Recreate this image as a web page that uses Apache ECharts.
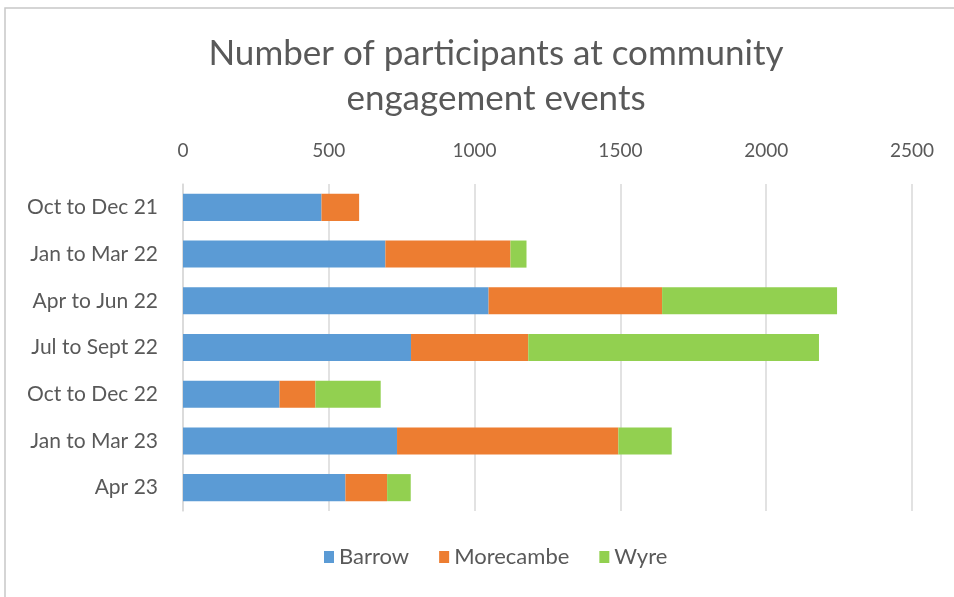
<!DOCTYPE html>
<html>
<head>
<meta charset="utf-8">
<script src="https://cdn.jsdelivr.net/npm/echarts@6/dist/echarts.min.js"></script>
<style>
html,body{margin:0;padding:0;background:#fff;}
#chart{width:954px;height:597px;}
</style>
</head>
<body>
<div id="chart"></div>
<script>
const categories = ["Oct to Dec 21","Jan to Mar 22","Apr to Jun 22","Jul to Sept 22","Oct to Dec 22","Jan to Mar 23","Apr 23"];
const barrow = [475, 694, 1048, 782, 331, 734, 557];
const morecambe = [129, 429, 595, 402, 123, 759, 143];
const wyre = [0, 55, 600, 997, 224, 183, 81];
const seriesNames = ["Barrow","Morecambe","Wyre"];
const colors = ["#5B9BD5","#ED7D31","#92D050"];
const xTicks = {min: 0, max: 2500, interval: 500};

const font = "Lato, 'Open Sans', sans-serif";
const chart = echarts.init(document.getElementById('chart'));
const mk = (name, data, color) => ({
  name, type: 'bar', stack: 'total', data,
  itemStyle: {color},
  barCategoryGap: '42%'
});
chart.setOption({
  animation: false,
  title: {
    text: 'Number of participants at community\nengagement events',
    left: 491, top: 26, textAlign: 'center',
    textStyle: {fontFamily: font, fontSize: 35, fontWeight: 'normal', color: '#595959', lineHeight: 45}
  },
  graphic: [{
    type: 'rect', shape: {x: 5, y: 8, width: 1200, height: 1200},
    style: {fill: 'none', stroke: '#c8c8c8', lineWidth: 1.5}, silent: true, z: -1
  }],
  legend: {
    bottom: 24, left: 319,
    itemWidth: 10, itemHeight: 12, itemGap: 30,
    icon: 'rect',
    textStyle: {fontFamily: font, fontSize: 22, color: '#595959'},
    data: seriesNames
  },
  grid: {left: 183, right: 42, top: 184, bottom: 86},
  xAxis: {
    type: 'value', position: 'top',
    min: xTicks.min, max: xTicks.max, interval: xTicks.interval,
    axisLine: {show: false}, axisTick: {show: false},
    axisLabel: {fontFamily: font, fontSize: 19, color: '#595959', margin: 24, formatter: v => String(v)},
    splitLine: {lineStyle: {color: '#d9d9d9', width: 1.5}}
  },
  yAxis: {
    type: 'category', inverse: true, data: categories,
    axisLine: {lineStyle: {color: '#d9d9d9', width: 1.5}},
    axisTick: {show: false},
    axisLabel: {fontFamily: font, fontSize: 21, color: '#595959', margin: 25}
  },
  series: [
    mk(seriesNames[0], barrow, colors[0]),
    mk(seriesNames[1], morecambe, colors[1]),
    mk(seriesNames[2], wyre, colors[2])
  ]
});
</script>
</body>
</html>
